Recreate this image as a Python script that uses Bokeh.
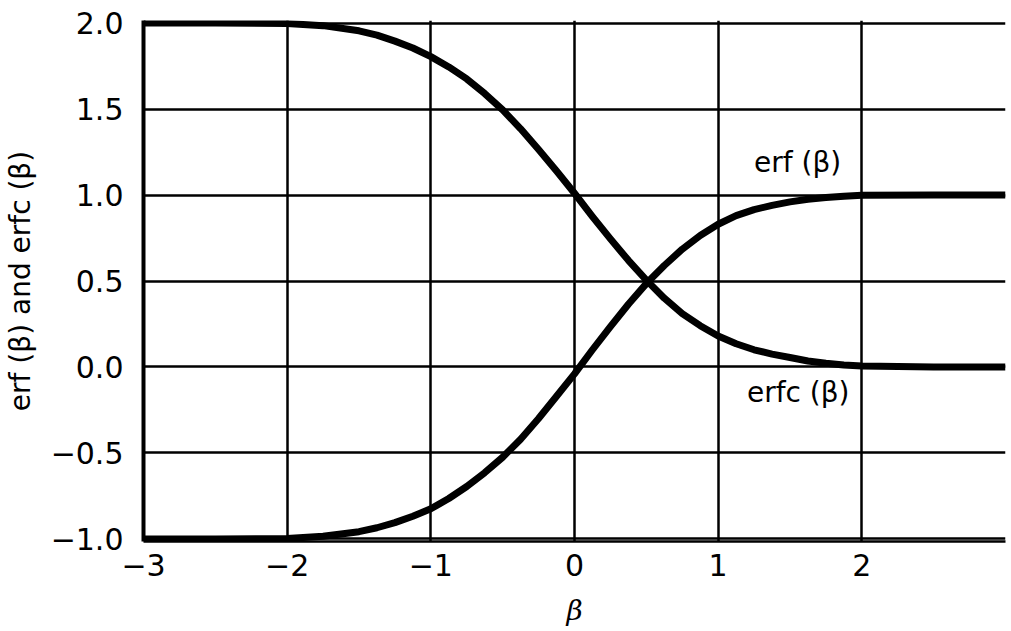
from bokeh.plotting import figure
from bokeh.models import Range1d, FixedTicker, Label
from bokeh.embed import file_html
from bokeh.resources import INLINE

beta = [-3.0, -2.5, -2.0, -1.75, -1.5, -1.375, -1.25, -1.125, -1.0, -0.875, -0.75, -0.625,
        -0.5, -0.375, -0.25, -0.125, 0.0, 0.125, 0.25, 0.375, 0.5, 0.625, 0.75,
        0.875, 1.0, 1.125, 1.25, 1.375, 1.5, 1.625, 1.75, 1.875, 2.0, 2.5, 3.0]
erf_vals = [-1.0, -1.0, -0.997, -0.985, -0.958, -0.935, -0.905, -0.868, -0.825, -0.765, -0.695, -0.615,
            -0.525, -0.42, -0.30, -0.17, -0.04, 0.10, 0.235, 0.365, 0.485, 0.59, 0.685,
            0.765, 0.83, 0.88, 0.915, 0.94, 0.96, 0.975, 0.985, 0.993, 0.998, 1.0, 1.0]
erfc_vals = [2.0, 2.0, 1.997, 1.985, 1.955, 1.93, 1.895, 1.855, 1.805, 1.745, 1.675, 1.59,
             1.495, 1.385, 1.265, 1.14, 1.01, 0.875, 0.745, 0.62, 0.505, 0.4, 0.31,
             0.24, 0.18, 0.135, 0.1, 0.075, 0.055, 0.035, 0.022, 0.012, 0.005, 0.0, 0.0]
x_ticks = [-3, -2, -1, 0, 1, 2]
x_tick_labels = ["\u22123", "\u22122", "\u22121", "0", "1", "2"]
y_ticks = [-1.0, -0.5, 0.0, 0.5, 1.0, 1.5, 2.0]
y_tick_labels = ["\u22121.0", "\u22120.5", "0.0", "0.5", "1.0", "1.5", "2.0"]

FONT = "DejaVu Sans"

p = figure(width=1011, height=631, output_backend="svg", toolbar_location=None,
           x_range=Range1d(-3.0, 3.0), y_range=Range1d(-1.015, 2.015),
           min_border_left=142, min_border_right=6, min_border_top=20, min_border_bottom=90)
p.outline_line_color = None
p.background_fill_color = "white"
p.border_fill_color = "white"

p.xgrid.ticker = FixedTicker(ticks=x_ticks + [3])
p.ygrid.ticker = FixedTicker(ticks=y_ticks)
for g in (p.xgrid, p.ygrid):
    g.grid_line_color = "black"
    g.grid_line_width = 2.5
    g.grid_line_alpha = 1.0

p.xaxis.ticker = FixedTicker(ticks=x_ticks)
p.yaxis.ticker = FixedTicker(ticks=y_ticks)
p.xaxis.major_label_overrides = {t: l for t, l in zip(x_ticks, x_tick_labels)}
p.yaxis.major_label_overrides = {t: l for t, l in zip(y_ticks, y_tick_labels)}

for ax in (p.xaxis, p.yaxis):
    ax.major_tick_line_color = None
    ax.minor_tick_line_color = None
    ax.axis_line_color = "black"
    ax.major_label_text_font = FONT
    ax.major_label_text_font_size = "30px"
    ax.major_label_text_color = "black"
    ax.axis_label_text_color = "black"
p.xaxis.axis_line_width = 2.5
p.yaxis.axis_line_width = 4

p.yaxis.major_label_standoff = 14
p.xaxis.major_label_standoff = 6
p.yaxis.axis_label = "erf (\u03b2) and erfc (\u03b2)"
p.yaxis.axis_label_text_font = FONT
p.yaxis.axis_label_text_font_size = "28px"
p.yaxis.axis_label_text_font_style = "normal"
p.yaxis.axis_label_standoff = 11
p.xaxis.axis_label = "\u03b2"
p.xaxis.axis_label_text_font = "DejaVu Serif"
p.xaxis.axis_label_text_font_size = "28px"
p.xaxis.axis_label_text_font_style = "italic"
p.xaxis.axis_label_standoff = 15

p.line(beta, erf_vals, line_color="black", line_width=7, line_join="round")
p.line(beta, erfc_vals, line_color="black", line_width=7, line_join="round")

p.add_layout(Label(x=1.25, y=1.19, text="erf (\u03b2)", text_font=FONT,
                   text_font_size="28px", text_color="black",
                   text_baseline="middle", text_align="left"))
p.add_layout(Label(x=1.2, y=-0.15, text="erfc (\u03b2)", text_font=FONT,
                   text_font_size="28px", text_color="black",
                   text_baseline="middle", text_align="left"))

open("out.html", "w").write(file_html(p, INLINE))
